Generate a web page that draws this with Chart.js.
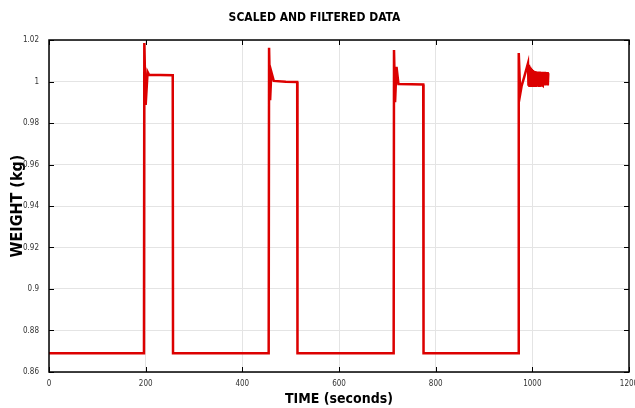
<!DOCTYPE html>
<html>
<head>
<meta charset="utf-8">
<title>Scaled and filtered data</title>
<script src="https://cdn.jsdelivr.net/npm/chart.js@4.4.1/dist/chart.umd.min.js"></script>
<style>
  html, body { margin: 0; padding: 0; background: #fff; }
  #wrap { width: 635px; height: 408px; }
</style>
</head>
<body>
<div id="wrap"><canvas id="weightChart"></canvas></div>
<script>
// load cell trace, four loading cycles
const timeSec = [
    0, 196.5, 197.2, 200, 204, 207, 230, 256, 256.6,
    454.5, 455.3, 457.5, 460, 465, 490, 513.5, 514.1,
    713.1, 713.8, 716, 719, 723, 750, 774.3, 774.9,
    971.2, 971.9, 975, 978, 983, 991,
    992, 993, 994, 995, 996, 997, 998, 999, 1000, 1001,
    1002, 1003, 1004, 1005, 1006, 1007, 1008, 1009, 1010, 1011,
    1012, 1013, 1014, 1015, 1016, 1017, 1018, 1019, 1020, 1021,
    1022, 1023, 1024, 1025, 1026, 1027, 1028, 1029, 1030, 1031,
    1032, 1033
];
const weightKg = [
    0.869, 0.869, 1.0185, 0.9887, 1.0046, 1.0032, 1.0031, 1.003, 0.869,
    0.869, 1.0163, 0.991, 1.0046, 1.0003, 0.9999, 0.9998, 0.869,
    0.869, 1.0152, 0.990, 1.0071, 0.9988, 0.9987, 0.9986, 0.869,
    0.869, 1.0137, 0.994, 0.998, 1.002, 1.0088,
    0.9985, 1.0080, 0.9980, 1.0072, 0.9982, 1.0066, 0.9980, 1.0060, 0.9983, 1.0055,
    0.9980, 1.0052, 0.9982, 1.0050, 0.9980, 1.0049, 0.9983, 1.0048, 0.9981, 1.0048,
    0.9982, 1.0047, 0.9980, 1.0048, 0.9982, 1.0047, 0.9981, 1.0046, 0.9983, 1.0047,
    0.9980, 1.0046, 0.9982, 1.0047, 0.9981, 1.0046, 0.9983, 1.0046, 0.9982, 1.0045,
    0.9981, 1.0040
];
const xTicks = [0, 200, 400, 600, 800, 1000, 1200];
const yTicks = [0.86, 0.88, 0.9, 0.92, 0.94, 0.96, 0.98, 1, 1.02];

const NARROW = "'Liberation Sans Narrow', 'DejaVu Sans Condensed', sans-serif";

// box around the axes plus inward tick marks on all four sides
const axesBox = {
    id: 'axesBox',
    afterDraw(chart) {
        const { ctx, chartArea: a, scales } = chart;
        const len = 5;
        ctx.save();
        ctx.strokeStyle = '#000';
        ctx.lineWidth = 1;
        xTicks.forEach(v => {
            const x = Math.round(scales.x.getPixelForValue(v)) + 0.5;
            ctx.beginPath();
            ctx.moveTo(x, a.bottom); ctx.lineTo(x, a.bottom - len);
            ctx.moveTo(x, a.top); ctx.lineTo(x, a.top + len);
            ctx.stroke();
        });
        yTicks.forEach(v => {
            const y = Math.round(scales.y.getPixelForValue(v)) + 0.5;
            ctx.beginPath();
            ctx.moveTo(a.left, y); ctx.lineTo(a.left + len, y);
            ctx.moveTo(a.right, y); ctx.lineTo(a.right - len, y);
            ctx.stroke();
        });
        ctx.lineWidth = 1.5;
        ctx.strokeRect(a.left, a.top, a.right - a.left, a.bottom - a.top);
        ctx.restore();
    }
};

new Chart(document.getElementById('weightChart'), {
    type: 'line',
    data: {
        datasets: [{
            data: timeSec.map((t, i) => ({ x: t, y: weightKg[i] })),
            borderColor: '#dc0000',
            borderWidth: 2.5,
            pointRadius: 0,
            tension: 0
        }]
    },
    options: {
        responsive: true,
        maintainAspectRatio: false,
        animation: false,
        layout: { padding: { top: 0, right: 6, bottom: 0, left: 0 } },
        plugins: {
            legend: { display: false },
            tooltip: { enabled: false },
            title: {
                display: true,
                text: 'SCALED AND FILTERED DATA',
                color: '#000',
                font: { family: NARROW, size: 12, weight: 'bold' },
                padding: { top: 11, bottom: 14.6 }
            }
        },
        scales: {
            x: {
                type: 'linear',
                min: 0,
                max: 1200,
                afterFit: s => {
                    s.height = 36;
                    s.paddingLeft = 0;
                    s.paddingRight = 0;
                },
                afterBuildTicks: s => { s.ticks = xTicks.map(v => ({ value: v })); },
                ticks: {
                    color: '#333',
                    font: { family: NARROW, size: 8 },
                    padding: 7,
                    maxRotation: 0,
                    callback: v => String(v)
                },
                grid: { color: '#e4e4e4', drawTicks: false },
                border: { display: false },
                title: {
                    display: true,
                    text: 'TIME (seconds)',
                    color: '#000',
                    font: { family: NARROW, size: 14, weight: 'bold' },
                    padding: { top: 0, bottom: 0 }
                }
            },
            y: {
                min: 0.86,
                max: 1.02,
                afterFit: s => { s.width = 49; },
                afterBuildTicks: s => { s.ticks = yTicks.map(v => ({ value: v })); },
                ticks: {
                    color: '#333',
                    font: { family: NARROW, size: 8 },
                    padding: 10,
                    callback: v => String(+v.toFixed(2))
                },
                grid: { color: '#e4e4e4', drawTicks: false },
                border: { display: false },
                title: {
                    display: true,
                    text: 'WEIGHT (kg)',
                    color: '#000',
                    font: { family: NARROW, size: 16, weight: 'bold' },
                    padding: { top: 8, bottom: 0 }
                }
            }
        }
    },
    plugins: [axesBox]
});
</script>
</body>
</html>
